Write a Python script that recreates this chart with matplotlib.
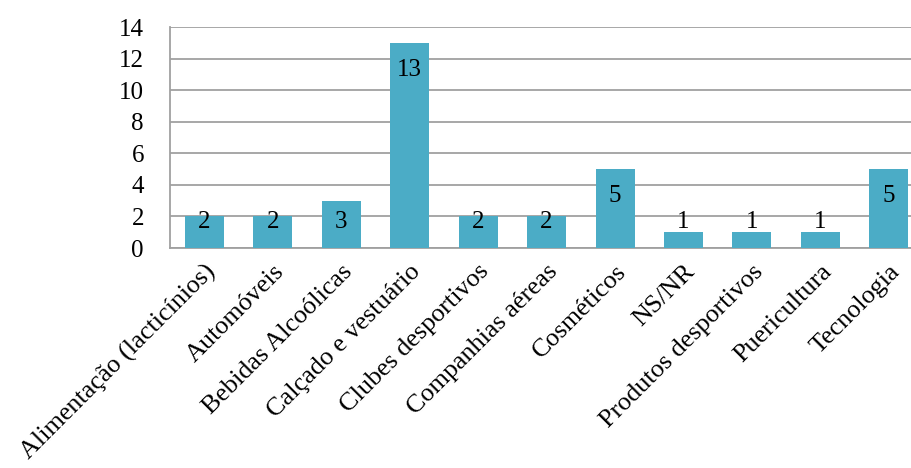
import matplotlib.pyplot as plt

categorias = ['Alimentação (lacticínios)', 'Automóveis', 'Bebidas Alcoólicas',
              'Calçado e vestuário', 'Clubes desportivos', 'Companhias aéreas',
              'Cosméticos', 'NS/NR', 'Produtos desportivos', 'Puericultura',
              'Tecnologia']
valores = [2, 2, 3, 13, 2, 2, 5, 1, 1, 1, 5]

plt.rcParams['font.family'] = ['Liberation Serif', 'DejaVu Serif']

fig = plt.figure(figsize=(9.11, 4.68), dpi=100)
# plot area runs a little past the right edge of the figure
ax = fig.add_axes([0.187, 0.47, 0.826, 0.472])

x = list(range(len(categorias)))
ax.bar(x, valores, width=0.57, color='#4BACC6', zorder=3)

# value labels sit just inside the top of each bar, clamped near the base
for xi, v in zip(x, valores):
    y = max(v - 1.7, 1.65)
    ax.text(xi, y, str(v), ha='center', va='center', fontsize=18, zorder=4)

ax.set_xlim(-0.5, len(categorias) - 0.5)
ax.set_ylim(0, 14)
ax.set_yticks(range(0, 15, 2))
ax.grid(axis='y', color='#A0A0A0', linewidth=1.3, zorder=0)
ax.set_xticks(x)
ax.set_xticklabels(categorias, rotation=45, ha='right', rotation_mode='anchor',
                   fontsize=18.8)
ax.tick_params(axis='both', length=0)
ax.tick_params(axis='y', pad=19, labelsize=18)
ax.tick_params(axis='x', pad=9)

for s in ['top', 'right']:
    ax.spines[s].set_visible(False)
for s in ['left', 'bottom']:
    ax.spines[s].set_color('#A0A0A0')
    ax.spines[s].set_linewidth(1.3)

fig.savefig('out.png', dpi=100)
